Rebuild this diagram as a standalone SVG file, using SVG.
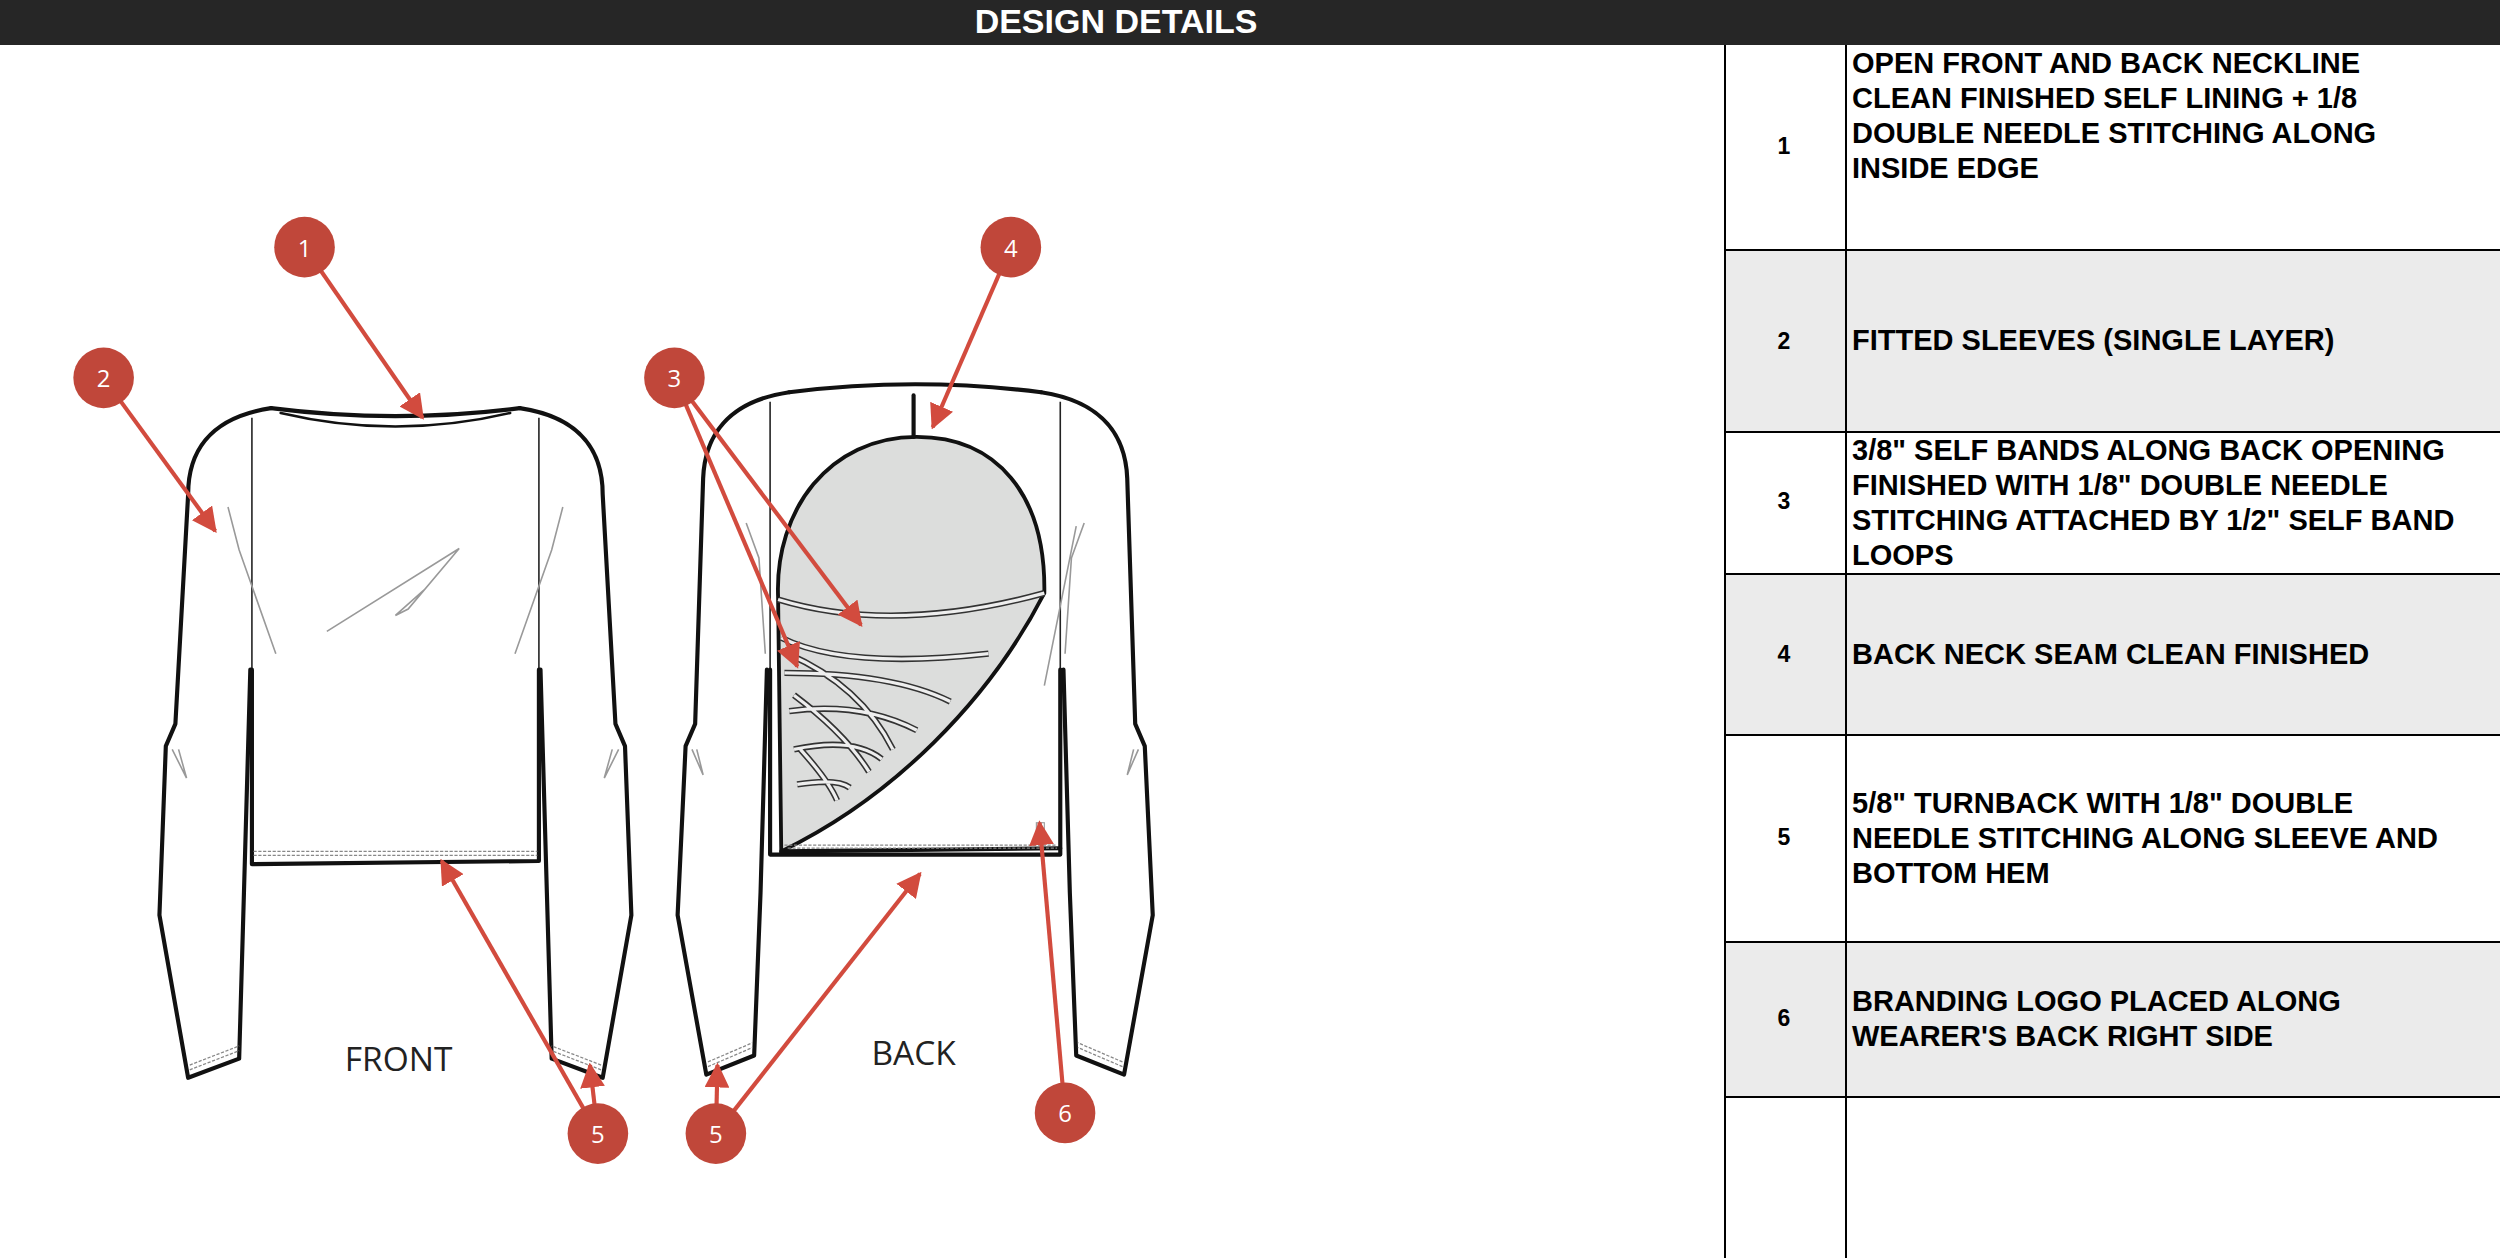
<svg xmlns="http://www.w3.org/2000/svg" width="2500" height="1258" viewBox="0 0 2500 1258">
<style>
.o{fill:none;stroke:#111;stroke-width:2.6;stroke-linejoin:round;stroke-linecap:round}
.t{fill:none;stroke:#222;stroke-width:1}
.g{fill:none;stroke:#999;stroke-width:1}
.st{fill:none;stroke:#888;stroke-width:0.8;stroke-dasharray:2 1}
.band{fill:none;stroke:#333;stroke-width:4}
.bandi{fill:none;stroke:#eee;stroke-width:2}
.ar{fill:none;stroke:#d24b3e;stroke-width:2.6}
.c{fill:#c0473a}
.cn{fill:#fff;font-family:"Open Sans","Liberation Sans",sans-serif;font-size:15px;text-anchor:middle}
.lab{fill:#222;font-family:"Open Sans","Liberation Sans",sans-serif;font-size:21px;text-anchor:middle}
.tx{fill:#000;font-family:"Liberation Sans",Arial,sans-serif;font-weight:bold;font-size:29px}
.num{fill:#000;font-family:"Liberation Sans",Arial,sans-serif;font-weight:bold;font-size:23px;text-anchor:middle}
.ln{stroke:#000;stroke-width:2}
</style>
<defs>
<marker id="ah" viewBox="0 0 10 10" refX="9" refY="5" markerWidth="6" markerHeight="6" orient="auto" markerUnits="strokeWidth"><path d="M0,0 L10,5 L0,10 z" fill="#d24b3e"/></marker>
</defs>
<rect width="2500" height="1258" fill="#fff"/>
<g id="header"><rect x="0" y="0" width="2500" height="45" fill="#262626"/><text x="1116" y="33" fill="#fff" font-family="Liberation Sans,Arial,sans-serif" font-weight="bold" font-size="34" text-anchor="middle">DESIGN DETAILS</text></g>
<g id="table">
<rect x="1725" y="250" width="775" height="182" fill="#ebebeb"/>
<rect x="1725" y="574" width="775" height="161" fill="#ebebeb"/>
<rect x="1725" y="942" width="775" height="155" fill="#ebebeb"/>
<line class="ln" x1="1725" y1="45" x2="1725" y2="1258"/>
<line class="ln" x1="1846" y1="45" x2="1846" y2="1258"/>
<line class="ln" x1="1725" y1="250" x2="2500" y2="250"/>
<line class="ln" x1="1725" y1="432" x2="2500" y2="432"/>
<line class="ln" x1="1725" y1="574" x2="2500" y2="574"/>
<line class="ln" x1="1725" y1="735" x2="2500" y2="735"/>
<line class="ln" x1="1725" y1="942" x2="2500" y2="942"/>
<line class="ln" x1="1725" y1="1097" x2="2500" y2="1097"/>
<text class="num" x="1784" y="154">1</text>
<text class="num" x="1784" y="349">2</text>
<text class="num" x="1784" y="509">3</text>
<text class="num" x="1784" y="662">4</text>
<text class="num" x="1784" y="845">5</text>
<text class="num" x="1784" y="1026">6</text>
<text class="tx" x="1852" y="73">OPEN FRONT AND BACK NECKLINE</text>
<text class="tx" x="1852" y="108">CLEAN FINISHED SELF LINING + 1/8</text>
<text class="tx" x="1852" y="143">DOUBLE NEEDLE STITCHING ALONG</text>
<text class="tx" x="1852" y="178">INSIDE EDGE</text>
<text class="tx" x="1852" y="350">FITTED SLEEVES (SINGLE LAYER)</text>
<text class="tx" x="1852" y="460">3/8" SELF BANDS ALONG BACK OPENING</text>
<text class="tx" x="1852" y="495">FINISHED WITH 1/8" DOUBLE NEEDLE</text>
<text class="tx" x="1852" y="530">STITCHING ATTACHED BY 1/2" SELF BAND</text>
<text class="tx" x="1852" y="565">LOOPS</text>
<text class="tx" x="1852" y="664">BACK NECK SEAM CLEAN FINISHED</text>
<text class="tx" x="1852" y="813">5/8" TURNBACK WITH 1/8" DOUBLE</text>
<text class="tx" x="1852" y="848">NEEDLE STITCHING ALONG SLEEVE AND</text>
<text class="tx" x="1852" y="883">BOTTOM HEM</text>
<text class="tx" x="1852" y="1011">BRANDING LOGO PLACED ALONG</text>
<text class="tx" x="1852" y="1046">WEARER'S BACK RIGHT SIDE</text>
</g>
<g transform="scale(1.5944)">
<g id="front">
<path class="o" d="M170,256 Q248,266 326,256"/>
<path class="o" style="stroke-width:1.6" d="M176,259 Q248,276 320,259"/>
<path class="o" d="M170,256 C130,262 118,285 118,310 L110,454 L104,468 L100,574 L118,676 L150,664 L153,560 L157,420"/>
<path class="o" d="M326,256 C366,262 378,285 378,310 L386,454 L392,468 L396,574 L378,676 L346,664 L343,560 L339,420"/>
<path class="t" d="M158,262 L158,420"/>
<path class="t" d="M338,262 L338,420"/>
<path class="o" d="M158,420 L158,542 L338,540 L338,420"/>
<path class="st" d="M159,534 L337,534 M159,536.5 L337,536.5"/>
<path class="st" d="M119,668 L150,656 M119,671 L150,659 M377,668 L346,656 M377,671 L346,659"/>
<path class="g" d="M143,318 L150,345 L173,410 M353,318 L346,345 L323,410"/>
<path class="g" d="M205,396 L288,344 L256,382 L248,386 L266,370"/>
<path class="g" d="M108,470 L117,488 L112,470 M388,470 L379,488 L384,470"/>
<text class="lab" x="250" y="672">FRONT</text>
</g>
<g id="back">
<path d="M488,374 C486,320 520,274 575,274 C625,274 656,310 655,372 C620,440 560,500 490,534 L488,374 z" fill="#dcdddc" stroke="#111" stroke-width="2.4"/>
<path class="o" d="M573,248 L573,274"/>
<path class="o" d="M495,246 Q574,236 653,246"/>
<path class="o" d="M495,246 C455,252 442,275 441,300 L436,454 L430,468 L425,574 L443,674 L473,662 L477,560 L481,420"/>
<path class="o" d="M653,246 C693,252 706,275 707,300 L712,454 L718,468 L723,574 L705,674 L675,662 L671,560 L667,420"/>
<path class="t" d="M483,252 L483,420 M665,252 L665,420"/>
<path class="o" d="M483,420 L483,536 L665,536 L665,420"/>
<path class="o" d="M490,534 L665,532"/>
<path class="st" d="M492,530 L663,530 M494,532 L663,532"/>
<path class="st" d="M444,666 L472,654 M444,669 L472,657 M704,666 L676,654 M704,669 L676,657"/>
<g>
<path class="band" d="M488,376 Q560,398 655,372"/>
<path class="bandi" d="M488,376 Q560,398 655,372"/>
<path class="band" d="M490,400 Q530,420 620,410 M492,422 Q560,422 596,440 M495,446 Q540,440 575,458 M498,470 Q535,462 553,476 M500,492 Q525,488 533,494 M494,410 Q540,430 560,470 M498,436 Q530,460 545,484 M502,470 Q520,490 525,502"/>
<path class="bandi" d="M490,400 Q530,420 620,410 M492,422 Q560,422 596,440 M495,446 Q540,440 575,458 M498,470 Q535,462 553,476 M500,492 Q525,488 533,494 M494,410 Q540,430 560,470 M498,436 Q530,460 545,484 M502,470 Q520,490 525,502"/>
</g>
<path class="g" d="M468,328 L476,350 L480,410 M680,328 L672,350 L668,410 M675,330 L655,430"/>
<path class="g" d="M434,470 L441,486 L437,470 M714,470 L707,486 L711,470"/>
<rect x="650" y="516" width="5" height="8" fill="none" stroke="#999" stroke-width="0.7"/>
<text class="lab" x="573" y="668">BACK</text>
</g>
<g id="connectors">
<path class="ar" marker-end="url(#ah)" d="M191,155 L265,262"/>
<path class="ar" marker-end="url(#ah)" d="M65,237 L135,333"/>
<path class="ar" marker-end="url(#ah)" d="M423,237 L540,392"/>
<path class="ar" marker-end="url(#ah)" d="M423,237 L500,418"/>
<path class="ar" marker-end="url(#ah)" d="M634,155 L585,268"/>
<path class="ar" marker-end="url(#ah)" d="M375,711 L277,540"/>
<path class="ar" marker-end="url(#ah)" d="M375,711 L370,668"/>
<path class="ar" marker-end="url(#ah)" d="M449,711 L577,548"/>
<path class="ar" marker-end="url(#ah)" d="M449,711 L450,668"/>
<path class="ar" marker-end="url(#ah)" d="M668,698 L652,516"/>
</g>
<g id="c1"><circle class="c" cx="191" cy="155" r="19"/><text class="cn" x="191" y="161">1</text></g>
<g id="c2"><circle class="c" cx="65" cy="237" r="19"/><text class="cn" x="65" y="243">2</text></g>
<g id="c3"><circle class="c" cx="423" cy="237" r="19"/><text class="cn" x="423" y="243">3</text></g>
<g id="c4"><circle class="c" cx="634" cy="155" r="19"/><text class="cn" x="634" y="161">4</text></g>
<g id="c5a"><circle class="c" cx="375" cy="711" r="19"/><text class="cn" x="375" y="717">5</text></g>
<g id="c5b"><circle class="c" cx="449" cy="711" r="19"/><text class="cn" x="449" y="717">5</text></g>
<g id="c6"><circle class="c" cx="668" cy="698" r="19"/><text class="cn" x="668" y="704">6</text></g>
</g>
</svg>
